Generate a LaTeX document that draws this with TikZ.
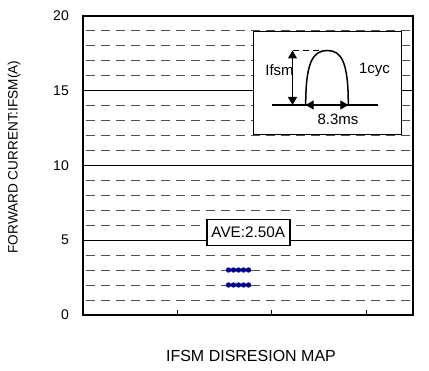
\documentclass[tikz,border=0pt]{standalone}
\usepackage{fontspec}
\setmainfont{Liberation Sans}
\usetikzlibrary{arrows.meta}
\definecolor{dotblue}{HTML}{00008C}
\definecolor{gridgray}{HTML}{505050}
\begin{document}
\begin{tikzpicture}[x=1pt,y=-1pt,
  frame/.style={line width=1.8pt},
  solidgrid/.style={line width=0.9pt,black},
  dashgrid/.style={line width=0.9pt,gridgray,dash pattern=on 9pt off 6pt},
  ticklab/.style={anchor=east,inner sep=0pt,font=\fontsize{14}{16}\selectfont},
  boxed/.style={draw,line width=1.5pt,fill=white},
  lab/.style={inner sep=0pt,font=\fontsize{15}{17}\selectfont},
  dbl/.style={line width=1.3pt,{Triangle[length=8pt,width=9pt]}-{Triangle[length=8pt,width=9pt]}},
  dot/.style={circle,fill=dotblue,inner sep=0pt,minimum size=5.4pt}]
\useasboundingbox (0,0) rectangle (429,371);
% grid
\foreach \v in {1,...,19}{
  \pgfmathsetmacro{\yy}{315-15*\v}
  \ifnum\v=5 \draw[solidgrid] (83,\yy) -- (413,\yy);
  \else\ifnum\v=10 \draw[solidgrid] (83,\yy) -- (413,\yy);
  \else\ifnum\v=15 \draw[solidgrid] (83,\yy) -- (413,\yy);
  \else \draw[dashgrid] (86,\yy) -- (413,\yy);
  \fi\fi\fi
}
% ticks
\foreach \xx in {177.5,271.7,366}{
  \draw[line width=0.9pt] (\xx,315) -- (\xx,310);
}
% frame
\draw[frame] (83,16) rectangle (413,315);
% tick labels
\node[ticklab] (t20) at (69,16) {20};
\node[ticklab] (t15) at (69,91) {15};
\node[ticklab] (t10) at (69,166) {10};
\node[ticklab] (t5) at (69,240) {5};
\node[ticklab] (t0) at (69,315) {0};
% axis labels
\node[inner sep=0pt,rotate=90,font=\fontsize{13.6}{15}\selectfont] (ylab) at (14,157) {FORWARD CURRENT:IFSM(A)};
\node[inner sep=0pt,font=\fontsize{16}{18}\selectfont] (xlab) at (251,356) {IFSM DISRESION MAP};
% data dots
\foreach \yy in {270,285}{
  \foreach \xx in {228.5,233.5,238.5,243.5,248.5}{
    \node[dot] at (\xx,\yy) {};
  }
}
% average box
\node[boxed,minimum width=83pt,minimum height=26pt,inner sep=0pt,font=\fontsize{15.3}{17}\selectfont] (ave) at (248.3,232.3) {AVE:2.50A};
% inset
\node[boxed,minimum width=148pt,minimum height=102.6pt,inner sep=0pt] (inset) at (327.5,83) {};
\coordinate (bl) at (272.3,105);
\coordinate (br) at (378.3,105);
\coordinate (al) at (305.7,105);
\coordinate (ar) at (348.3,105);
\coordinate (pk) at (327.3,50.5);
\coordinate (vt) at (292.5,50.5);
\coordinate (vb) at (292.5,105);
\draw[line width=1.5pt] (bl) -- (br);
\draw[line width=1.5pt] (al) .. controls (305.7,62) and (313,50.5) .. (pk) .. controls (341.5,50.5) and (348.3,62) .. (ar);
\draw[line width=1.2pt,dash pattern=on 6pt off 4pt] (vt) -- (pk);
\draw[dbl] (vt) -- (vb);
\draw[dbl] (al) -- (ar);
\node[lab] (ifsm) at (279.5,70.5) {Ifsm};
\node[lab] (cyc) at (374.5,70) {1cyc};
\node[lab] (ms) at (338,119) {8.3ms};
\end{tikzpicture}
\end{document}
